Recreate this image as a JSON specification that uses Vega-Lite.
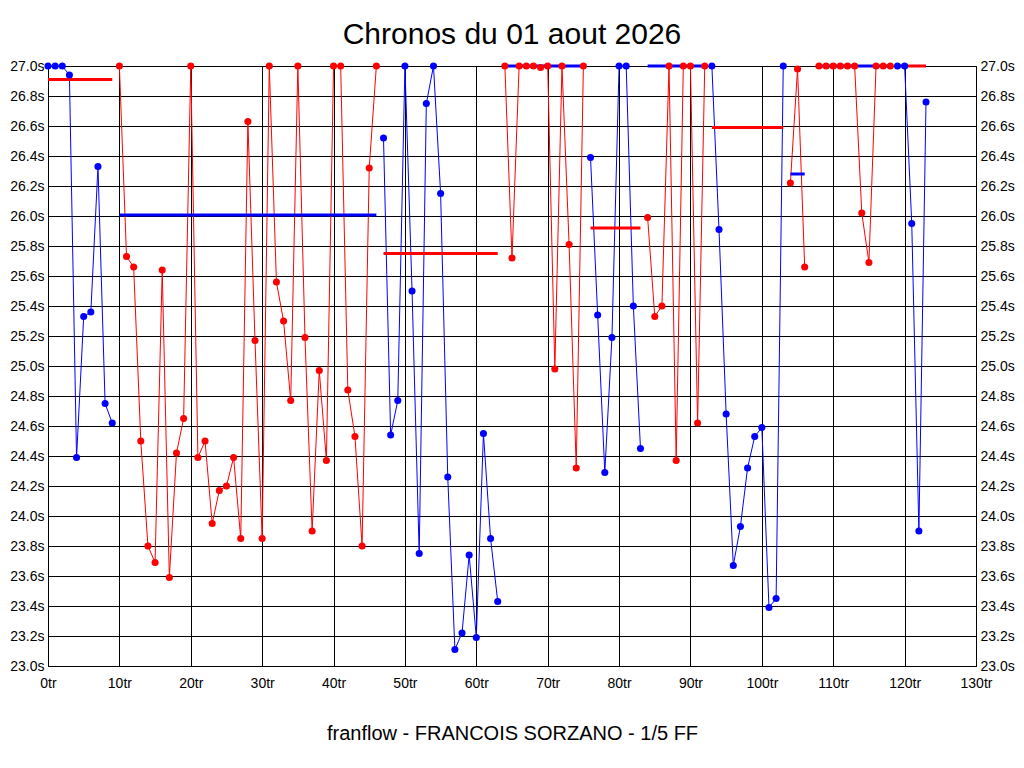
{
  "$schema": "https://vega.github.io/schema/vega-lite/v6.json",
  "width": 928,
  "height": 600,
  "autosize": {"type": "none"},
  "padding": {"left": 48, "top": 66, "right": 48, "bottom": 102},
  "background": "white",
  "title": {"text": "Chronos du 01 aout 2026", "fontSize": 30, "fontWeight": "normal", "font": "Liberation Sans", "color": "black", "anchor": "middle", "frame": "group", "offset": 9},
  "datasets": {
    "laps": [
      {"lap":0,"t":27.0,"stint":1,"c":"b"},{"lap":1,"t":27.0,"stint":1,"c":"b"},{"lap":2,"t":27.0,"stint":1,"c":"b"},{"lap":3,"t":26.94,"stint":1,"c":"b"},{"lap":4,"t":24.39,"stint":1,"c":"b"},{"lap":5,"t":25.33,"stint":1,"c":"b"},{"lap":6,"t":25.36,"stint":1,"c":"b"},{"lap":7,"t":26.33,"stint":1,"c":"b"},{"lap":8,"t":24.75,"stint":1,"c":"b"},{"lap":9,"t":24.62,"stint":1,"c":"b"},
      {"lap":10,"t":27.0,"stint":2,"c":"r"},{"lap":11,"t":25.73,"stint":2,"c":"r"},{"lap":12,"t":25.66,"stint":2,"c":"r"},{"lap":13,"t":24.5,"stint":2,"c":"r"},{"lap":14,"t":23.8,"stint":2,"c":"r"},{"lap":15,"t":23.69,"stint":2,"c":"r"},{"lap":16,"t":25.64,"stint":2,"c":"r"},{"lap":17,"t":23.59,"stint":2,"c":"r"},{"lap":18,"t":24.42,"stint":2,"c":"r"},{"lap":19,"t":24.65,"stint":2,"c":"r"},{"lap":20,"t":27.0,"stint":2,"c":"r"},{"lap":21,"t":24.39,"stint":2,"c":"r"},{"lap":22,"t":24.5,"stint":2,"c":"r"},{"lap":23,"t":23.95,"stint":2,"c":"r"},{"lap":24,"t":24.17,"stint":2,"c":"r"},{"lap":25,"t":24.2,"stint":2,"c":"r"},{"lap":26,"t":24.39,"stint":2,"c":"r"},{"lap":27,"t":23.85,"stint":2,"c":"r"},{"lap":28,"t":26.63,"stint":2,"c":"r"},{"lap":29,"t":25.17,"stint":2,"c":"r"},{"lap":30,"t":23.85,"stint":2,"c":"r"},{"lap":31,"t":27.0,"stint":2,"c":"r"},{"lap":32,"t":25.56,"stint":2,"c":"r"},{"lap":33,"t":25.3,"stint":2,"c":"r"},{"lap":34,"t":24.77,"stint":2,"c":"r"},{"lap":35,"t":27.0,"stint":2,"c":"r"},{"lap":36,"t":25.19,"stint":2,"c":"r"},{"lap":37,"t":23.9,"stint":2,"c":"r"},{"lap":38,"t":24.97,"stint":2,"c":"r"},{"lap":39,"t":24.37,"stint":2,"c":"r"},{"lap":40,"t":27.0,"stint":2,"c":"r"},{"lap":41,"t":27.0,"stint":2,"c":"r"},{"lap":42,"t":24.84,"stint":2,"c":"r"},{"lap":43,"t":24.53,"stint":2,"c":"r"},{"lap":44,"t":23.8,"stint":2,"c":"r"},{"lap":45,"t":26.32,"stint":2,"c":"r"},{"lap":46,"t":27.0,"stint":2,"c":"r"},
      {"lap":47,"t":26.52,"stint":3,"c":"b"},{"lap":48,"t":24.54,"stint":3,"c":"b"},{"lap":49,"t":24.77,"stint":3,"c":"b"},{"lap":50,"t":27.0,"stint":3,"c":"b"},{"lap":51,"t":25.5,"stint":3,"c":"b"},{"lap":52,"t":23.75,"stint":3,"c":"b"},{"lap":53,"t":26.75,"stint":3,"c":"b"},{"lap":54,"t":27.0,"stint":3,"c":"b"},{"lap":55,"t":26.15,"stint":3,"c":"b"},{"lap":56,"t":24.26,"stint":3,"c":"b"},{"lap":57,"t":23.11,"stint":3,"c":"b"},{"lap":58,"t":23.22,"stint":3,"c":"b"},{"lap":59,"t":23.74,"stint":3,"c":"b"},{"lap":60,"t":23.19,"stint":3,"c":"b"},{"lap":61,"t":24.55,"stint":3,"c":"b"},{"lap":62,"t":23.85,"stint":3,"c":"b"},{"lap":63,"t":23.43,"stint":3,"c":"b"},
      {"lap":64,"t":27.0,"stint":4,"c":"r"},{"lap":65,"t":25.72,"stint":4,"c":"r"},{"lap":66,"t":27.0,"stint":4,"c":"r"},{"lap":67,"t":27.0,"stint":4,"c":"r"},{"lap":68,"t":27.0,"stint":4,"c":"r"},{"lap":69,"t":26.99,"stint":4,"c":"r"},{"lap":70,"t":27.0,"stint":4,"c":"r"},{"lap":71,"t":24.98,"stint":4,"c":"r"},{"lap":72,"t":27.0,"stint":4,"c":"r"},{"lap":73,"t":25.81,"stint":4,"c":"r"},{"lap":74,"t":24.32,"stint":4,"c":"r"},{"lap":75,"t":27.0,"stint":4,"c":"r"},
      {"lap":76,"t":26.39,"stint":5,"c":"b"},{"lap":77,"t":25.34,"stint":5,"c":"b"},{"lap":78,"t":24.29,"stint":5,"c":"b"},{"lap":79,"t":25.19,"stint":5,"c":"b"},{"lap":80,"t":27.0,"stint":5,"c":"b"},{"lap":81,"t":27.0,"stint":5,"c":"b"},{"lap":82,"t":25.4,"stint":5,"c":"b"},{"lap":83,"t":24.45,"stint":5,"c":"b"},
      {"lap":84,"t":25.99,"stint":6,"c":"r"},{"lap":85,"t":25.33,"stint":6,"c":"r"},{"lap":86,"t":25.4,"stint":6,"c":"r"},{"lap":87,"t":27.0,"stint":6,"c":"r"},{"lap":88,"t":24.37,"stint":6,"c":"r"},{"lap":89,"t":27.0,"stint":6,"c":"r"},{"lap":90,"t":27.0,"stint":6,"c":"r"},{"lap":91,"t":24.62,"stint":6,"c":"r"},{"lap":92,"t":27.0,"stint":6,"c":"r"},
      {"lap":93,"t":27.0,"stint":7,"c":"b"},{"lap":94,"t":25.91,"stint":7,"c":"b"},{"lap":95,"t":24.68,"stint":7,"c":"b"},{"lap":96,"t":23.67,"stint":7,"c":"b"},{"lap":97,"t":23.93,"stint":7,"c":"b"},{"lap":98,"t":24.32,"stint":7,"c":"b"},{"lap":99,"t":24.53,"stint":7,"c":"b"},{"lap":100,"t":24.59,"stint":7,"c":"b"},{"lap":101,"t":23.39,"stint":7,"c":"b"},{"lap":102,"t":23.45,"stint":7,"c":"b"},{"lap":103,"t":27.0,"stint":7,"c":"b"},
      {"lap":104,"t":26.22,"stint":8,"c":"r"},{"lap":105,"t":26.98,"stint":8,"c":"r"},{"lap":106,"t":25.66,"stint":8,"c":"r"},
      {"lap":108,"t":27.0,"stint":9,"c":"r"},{"lap":109,"t":27.0,"stint":9,"c":"r"},{"lap":110,"t":27.0,"stint":9,"c":"r"},{"lap":111,"t":27.0,"stint":9,"c":"r"},{"lap":112,"t":27.0,"stint":9,"c":"r"},{"lap":113,"t":27.0,"stint":9,"c":"r"},{"lap":114,"t":26.02,"stint":9,"c":"r"},{"lap":115,"t":25.69,"stint":9,"c":"r"},{"lap":116,"t":27.0,"stint":9,"c":"r"},{"lap":117,"t":27.0,"stint":9,"c":"r"},{"lap":118,"t":27.0,"stint":9,"c":"r"},
      {"lap":119,"t":27.0,"stint":10,"c":"b"},{"lap":120,"t":27.0,"stint":10,"c":"b"},{"lap":121,"t":25.95,"stint":10,"c":"b"},{"lap":122,"t":23.9,"stint":10,"c":"b"},{"lap":123,"t":26.76,"stint":10,"c":"b"}
    ],
    "avg": [
      {"stint":1,"lap":0,"lap2":9,"t":26.91,"c":"r"},
      {"stint":2,"lap":10,"lap2":46,"t":26.007,"c":"b"},
      {"stint":3,"lap":47,"lap2":63,"t":25.75,"c":"r"},
      {"stint":4,"lap":64,"lap2":75,"t":27.0,"c":"b"},
      {"stint":5,"lap":76,"lap2":83,"t":25.92,"c":"r"},
      {"stint":6,"lap":84,"lap2":92,"t":27.0,"c":"b"},
      {"stint":7,"lap":93,"lap2":103,"t":26.59,"c":"r"},
      {"stint":8,"lap":104,"lap2":106,"t":26.28,"c":"b"},
      {"stint":9,"lap":108,"lap2":118,"t":27.0,"c":"b"},
      {"stint":10,"lap":119,"lap2":123,"t":27.0,"c":"r"}
    ]
  },
  "encoding": {
    "x": {
      "field": "lap", "type": "quantitative",
      "scale": {"domain": [0, 130], "nice": false, "zero": false},
      "axis": {
        "values": [0,10,20,30,40,50,60,70,80,90,100,110,120,130],
        "labelExpr": "datum.value + 'tr'",
        "grid": true, "gridColor": "black", "gridOpacity": 1, "gridWidth": 1,
        "ticks": false, "domain": false,
        "labelFont": "Liberation Sans", "labelFontSize": 14, "labelColor": "black", "labelPadding": 10,
        "labelFlush": false, "labelOverlap": false, "labelBound": false,
        "title": "franflow - FRANCOIS SORZANO - 1/5 FF",
        "titleFont": "Liberation Sans", "titleFontSize": 20, "titleFontWeight": "normal", "titleColor": "black", "titlePadding": 33
      }
    },
    "color": {"field": "c", "type": "nominal", "scale": {"domain": ["b", "r"], "range": ["#0000ff", "#ff0000"]}, "legend": null}
  },
  "layer": [
    {
      "data": {"name": "laps"},
      "mark": {"type": "line", "strokeWidth": 1, "clip": false},
      "encoding": {
        "y": {
          "field": "t", "type": "quantitative",
          "scale": {"domain": [23, 27], "nice": false, "zero": false},
          "axis": {
            "values": [23.0,23.2,23.4,23.6,23.8,24.0,24.2,24.4,24.6,24.8,25.0,25.2,25.4,25.6,25.8,26.0,26.2,26.4,26.6,26.8,27.0],
            "labelExpr": "format(datum.value, '.1f') + 's'",
            "grid": true, "gridColor": "black", "gridOpacity": 1, "gridWidth": 1,
            "ticks": false, "domain": false,
            "labelFont": "Liberation Sans", "labelFontSize": 14, "labelColor": "black", "labelPadding": 4,
            "labelOverlap": false, "labelFlush": false, "labelBound": false,
            "title": null
          }
        },
        "detail": {"field": "stint", "type": "nominal"}
      }
    },
    {
      "data": {"name": "avg"},
      "mark": {"type": "rule", "strokeWidth": 3},
      "encoding": {
        "x2": {"field": "lap2"},
        "y": {"field": "t", "type": "quantitative", "axis": null}
      }
    },
    {
      "data": {"name": "laps"},
      "mark": {"type": "point", "filled": true, "size": 50, "opacity": 1, "clip": false},
      "encoding": {
        "y": {
          "field": "t", "type": "quantitative",
          "axis": {
            "orient": "right",
            "values": [23.0,23.2,23.4,23.6,23.8,24.0,24.2,24.4,24.6,24.8,25.0,25.2,25.4,25.6,25.8,26.0,26.2,26.4,26.6,26.8,27.0],
            "labelExpr": "format(datum.value, '.1f') + 's'",
            "grid": false, "ticks": false, "domain": false,
            "labelFont": "Liberation Sans", "labelFontSize": 14, "labelColor": "black", "labelPadding": 4,
            "labelOverlap": false, "labelFlush": false, "labelBound": false,
            "title": null
          }
        }
      }
    }
  ],
  "resolve": {"axis": {"y": "independent"}},
  "config": {
    "view": {"stroke": "black", "strokeWidth": 1, "fill": "white"},
    "font": "Liberation Sans"
  }
}
